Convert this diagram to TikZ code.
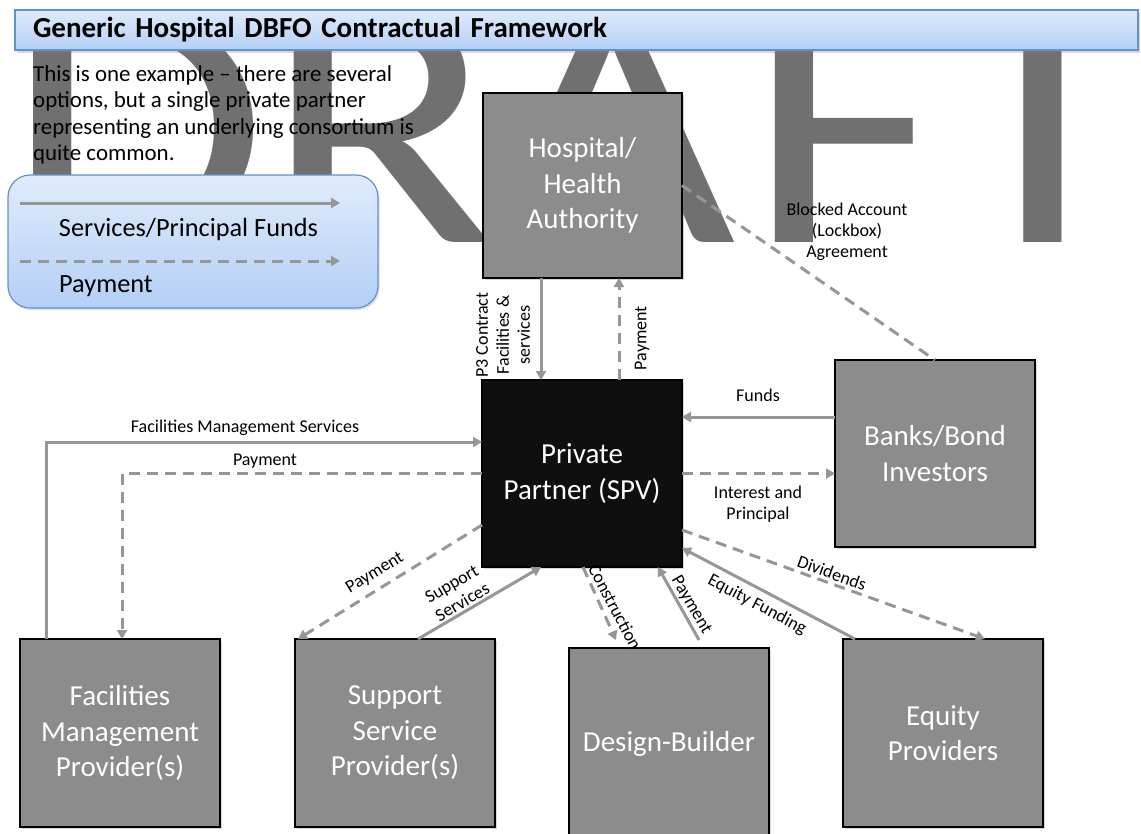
\documentclass[tikz,border=0pt]{standalone}
\usepackage{fontspec}
\usepackage{graphicx}
\setmainfont{Carlito}
\usetikzlibrary{arrows.meta,shadows,calc}
\definecolor{wm}{RGB}{112,112,112}
\definecolor{boxgray}{RGB}{140,140,140}
\definecolor{spvblack}{RGB}{15,15,15}
\definecolor{conncol}{RGB}{150,150,150}
\definecolor{bluetop}{RGB}{223,235,251}
\definecolor{bluebot}{RGB}{180,207,246}
\definecolor{blueedge}{RGB}{100,145,205}
\newcommand{\wmletter}[1]{\scalebox{4.279}[3.576]{\fontsize{100}{100}\selectfont #1}}
\begin{document}
\begin{tikzpicture}[x=1pt,y=-1pt,
  box/.style={draw=black, line width=1.2pt, fill=boxgray, text=white, anchor=north west,
    minimum width=200pt, inner sep=0pt, outer sep=0pt, align=center,
    font=\fontsize{29}{35.5}\selectfont,
    drop shadow={shadow xshift=2pt,shadow yshift=-2pt,opacity=0.3}},
  flow/.style={draw=conncol, line width=3pt, -{Triangle[width=10pt,length=9pt]}},
  payflow/.style={flow, dash pattern=on 11pt off 7pt},
  payline/.style={draw=conncol, line width=3pt, dash pattern=on 11pt off 7pt},
  lbl/.style={font=\fontsize{18}{21}\selectfont, align=center, inner sep=0pt},
  bluebox/.style={top color=bluetop, bottom color=bluebot, draw=blueedge, line width=1.2pt,
    inner sep=0pt, outer sep=0pt, anchor=north west},
  wmstyle/.style={anchor=south west, inner sep=0pt, outer sep=0pt, text=wm},
]
\useasboundingbox (0,0) rectangle (1141,833);
\fill[white] (0,0) rectangle (1141,833);

% watermark (its top is hidden under the title bar)
\begin{scope}
\clip (0,46) rectangle (1141,833);
\node[wmstyle] (wD) at (5,242) {\wmletter{D}};
\node[wmstyle] (wR) at (263.2,242) {\wmletter{R}};
\node[wmstyle] (wA) at (488.5,242) {\wmletter{A}};
\node[wmstyle] (wF) at (746.3,242) {\wmletter{F}};
\node[wmstyle] (wT) at (938.7,242) {\wmletter{T}};
\end{scope}

% note
\node[anchor=north west, align=left, inner sep=0pt,
  font=\fontsize{22.9}{26.5}\selectfont] (note) at (33,65)
  {This is one example – there are several\\options, but a single private partner\\representing an underlying consortium is\\quite common.};

% legend
\node[bluebox, rounded corners=22pt, minimum width=370pt, minimum height=133pt,
  drop shadow={shadow xshift=1.5pt,shadow yshift=-2pt,opacity=0.25}] (legend) at (8,175) {};
\coordinate (l1a) at ([xshift=12pt,yshift=-28pt]legend.north west);
\coordinate (l1b) at ([xshift=332pt,yshift=-28pt]legend.north west);
\coordinate (l2a) at ([xshift=12pt,yshift=-86pt]legend.north west);
\coordinate (l2b) at ([xshift=332pt,yshift=-86pt]legend.north west);
\draw[flow] (l1a) -- (l1b);
\draw[payflow] (l2a) -- (l2b);
\node[anchor=base, inner sep=0pt, font=\fontsize{26.3}{30}\selectfont] (legS) at (188.5,236) {Services/Principal Funds};
\node[anchor=base west, inner sep=0pt, font=\fontsize{26.3}{30}\selectfont] (legP) at (59,292) {Payment};

% title bar
\node[bluebox, minimum width=1123pt, minimum height=40pt, text width=1087pt, inner xsep=18pt,
  align=left, font=\bfseries\fontsize{29}{32}\selectfont,
  drop shadow={shadow xshift=1.5pt,shadow yshift=-2.5pt,opacity=0.3}] (title) at (15,10)
  {Generic Hospital DBFO Contractual Framework};

% boxes
\node[box, minimum width=199pt, minimum height=185pt] (hosp) at (483,93) {Hospital/\\Health\\Authority};
\node[box, fill=spvblack, minimum height=187pt] (spv) at (482,380) {Private\\Partner (SPV)};
\node[box, minimum height=187pt] (banks) at (835,360) {Banks/Bond\\Investors};
\node[box, minimum height=188pt] (fm) at (20,639) {Facilities\\Management\\Provider(s)};
\node[box, minimum height=188pt] (ssp) at (295,639) {Support\\Service\\Provider(s)};
\node[box, minimum height=192pt] (db) at (569,648) {Design-Builder};
\node[box, minimum height=188pt] (eq) at (843,639) {Equity\\Providers};

% hospital <-> spv
\draw[flow] ([xshift=-41.5pt]hosp.south) -- ([xshift=-41pt]spv.north);
\draw[payflow] ([xshift=37pt]spv.north) -- ([xshift=36.5pt]hosp.south);
\node[lbl, rotate=90] (lP3) at (503,335) {P3 Contract\\Facilities \&\\services};
\node[lbl, rotate=90] (lPayH) at (642,338) {Payment};

% hospital - banks
\draw[payline] (hosp.east) -- (banks.north);
\node[lbl] (lBlock) at (847,232) {Blocked Account\\(Lockbox)\\Agreement};

% banks <-> spv
\coordinate (fundsB) at ([yshift=36.5pt]banks.west);
\draw[flow] (fundsB) -- (fundsB -| spv.east);
\draw[payflow] (spv.east) -- (spv.east -| banks.west);
\node[lbl] (lFunds) at (758,395) {Funds};
\node[lbl] (lInt) at (758,504) {Interest and\\Principal};

% facilities management
\coordinate (fmsA) at ([xshift=-74pt]fm.north);
\coordinate (fmsB) at ([yshift=31.5pt]spv.west);
\draw[flow] (fmsA) |- (fmsB);
\draw[payflow] (spv.west) -| ([xshift=2pt]fm.north);
\node[lbl] (lFMS) at (245,428) {Facilities Management Services};
\node[lbl] (lPayFM) at (265,461) {Payment};

% support services
\draw[payflow] ([yshift=-51.5pt]spv.west) -- ([xshift=3pt]ssp.north west);
\draw[flow] ([xshift=23pt]ssp.north) -- ([xshift=-41pt]spv.south);
\node[lbl, rotate=31.3] (lPaySS) at (375,573) {Payment};
\node[lbl, rotate=30.3] (lSS) at (457,593) {Support\\Services};

% design-builder
\draw[payflow] ([xshift=1pt]spv.south) -- ([xshift=-53pt,yshift=8pt]db.north);
\draw[flow] ([xshift=30pt,yshift=8pt]db.north) -- ([xshift=76pt]spv.south);
\node[lbl, rotate=-62] (lCons) at (615,607) {Construction};
\node[lbl, rotate=-60] (lPayDB) at (691,605) {Payment};

% equity
\draw[flow] ([xshift=-88pt]eq.north) -- ([yshift=19pt]spv.south east);
\draw[payflow] ([yshift=-56.5pt]spv.east) -- ([xshift=42pt]eq.north);
\node[lbl, rotate=-27.7] (lEqF) at (757,605) {Equity Funding};
\node[lbl, rotate=-19.7] (lDiv) at (832,573) {Dividends};
\end{tikzpicture}
\end{document}
